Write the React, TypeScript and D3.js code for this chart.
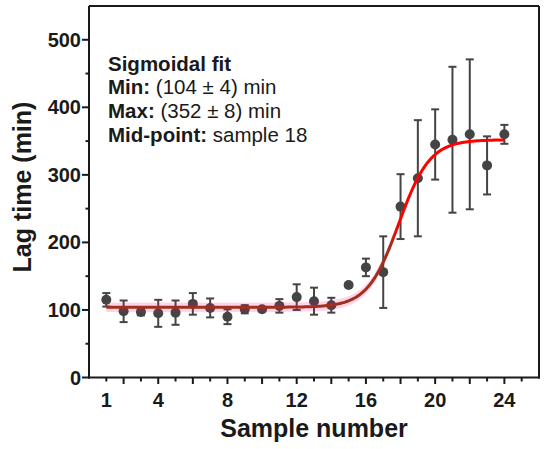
import React from "react";
import * as d3 from "d3";

const samples = d3.range(1, 25);
const lagMeans = [115, 98, 97, 95, 96, 109, 103, 90, 101, 101, 106, 119, 113, 107, 137, 163, 156, 253, 295, 345, 352, 360, 314, 360];
const lagErrors = [10, 16, 5, 20, 18, 16, 14, 11, 6, 3, 10, 19, 20, 11, 2, 13, 53, 48, 86, 52, 108, 111, 43, 14];

const fitMin = 104;
const fitMax = 352;
const fitMid = 17.9;
const fitSlope = 0.9;
const bandHalf = 7;
const bandEnd = 17.6;

const xTickLabels = [1, 4, 8, 12, 16, 20, 24];
const yTickLabels = [0, 100, 200, 300, 400, 500];

const W = 550;
const H = 449;
const FONT = "'Liberation Sans', Arial, Helvetica, sans-serif";

export default function App() {
  const x = d3.scaleLinear().domain([0, 26]).range([89, 539]);
  const y = d3.scaleLinear().domain([0, 550]).range([377.5, 6]);
  const fit = (s: number) => fitMin + (fitMax - fitMin) / (1 + Math.exp((fitMid - s) / fitSlope));
  const curveX = d3.range(1, 24.0001, 0.05);
  const line = d3.line<number>().x((d) => x(d)).y((d) => y(fit(d)));
  const bandX = d3.range(1, bandEnd + 0.0001, 0.05);
  const area = d3
    .area<number>()
    .x((d) => x(d))
    .y0((d) => y(fit(d) - bandHalf))
    .y1((d) => y(fit(d) + bandHalf));
  const gray = "#444";
  const axisCol = "#1a1a1a";
  const stop = ((x(bandEnd) - x(1)) / (x(24) - x(1))) * 100;

  return (
    <svg width={W} height={H} style={{ position: "absolute", left: 0, top: 0, background: "#fff" }} fontFamily={FONT}>
      <defs>
        <linearGradient id="fitGrad" gradientUnits="userSpaceOnUse" x1={x(1)} x2={x(24)} y1={0} y2={0}>
          <stop offset="0%" stopColor="#a0301a" />
          <stop offset={`${stop - 1}%`} stopColor="#a0301a" />
          <stop offset={`${stop + 1}%`} stopColor="#f00" />
          <stop offset="100%" stopColor="#f00" />
        </linearGradient>
      </defs>
      {samples.map((s, i) => {
        const cx = x(s);
        const top = y(lagMeans[i] + lagErrors[i]);
        const bot = y(lagMeans[i] - lagErrors[i]);
        return (
          <g key={"e" + s} stroke={gray} strokeWidth={2}>
            <line x1={cx} x2={cx} y1={top} y2={bot} />
            <line x1={cx - 4} x2={cx + 4} y1={top} y2={top} />
            <line x1={cx - 4} x2={cx + 4} y1={bot} y2={bot} />
          </g>
        );
      })}
      {samples.map((s, i) => (
        <circle key={"p" + s} cx={x(s)} cy={y(lagMeans[i])} r={5} fill={gray} />
      ))}
      <path d={area(bandX) || ""} fill="rgba(255,0,128,0.17)" stroke="none" />
      <path d={line(curveX) || ""} fill="none" stroke="url(#fitGrad)" strokeWidth={3} />

      <g stroke={axisCol} strokeWidth={2} fill="none">
        <line x1={x(0)} x2={x(26)} y1={y(550)} y2={y(550)} />
        <line x1={x(26)} x2={x(26)} y1={y(550)} y2={y(0) + 1} />
        <line x1={x(0)} x2={x(0)} y1={y(550)} y2={y(0) + 1} />
        <line x1={x(0) - 1} x2={x(26) + 1} y1={y(0)} y2={y(0)} />
      </g>
      <g stroke={axisCol} strokeWidth={2}>
        {d3.range(1, 26).map((t) => (
          <line key={"xt" + t} x1={x(t)} x2={x(t)} y1={y(0)} y2={y(0) + (t % 2 === 0 ? 6.5 : 4)} />
        ))}
        {d3.range(0, 551, 50).filter((v) => v < 550).map((v) => (
          <line key={"yt" + v} x1={x(0) - (v % 100 === 0 ? 7 : 3.5)} x2={x(0)} y1={y(v)} y2={y(v)} />
        ))}
      </g>
      {xTickLabels.map((t) => (
        <text key={"xl" + t} x={x(t)} y={407} textAnchor="middle" fontSize={20} fontWeight="bold" fill={axisCol}>
          {t}
        </text>
      ))}
      {yTickLabels.map((v) => (
        <text key={"yl" + v} x={81} y={y(v) + 7} textAnchor="end" fontSize={20} fontWeight="bold" fill={axisCol}>
          {v}
        </text>
      ))}
      <text x={314} y={437} textAnchor="middle" fontSize={25} fontWeight="bold" fill={axisCol}>
        Sample number
      </text>
      <text transform="translate(31,187) rotate(-90)" textAnchor="middle" fontSize={25} fontWeight="bold" fill={axisCol}>
        Lag time (min)
      </text>
      <g fontSize={20.5} fill={axisCol}>
        <text x={108} y={70.7} fontWeight="bold">Sigmoidal fit</text>
        <text x={108} y={94.3}>
          <tspan fontWeight="bold">Min:</tspan> (104 ± 4) min
        </text>
        <text x={108} y={117.8}>
          <tspan fontWeight="bold">Max:</tspan> (352 ± 8) min
        </text>
        <text x={108} y={141.5}>
          <tspan fontWeight="bold">Mid-point:</tspan> sample 18
        </text>
      </g>
    </svg>
  );
}
